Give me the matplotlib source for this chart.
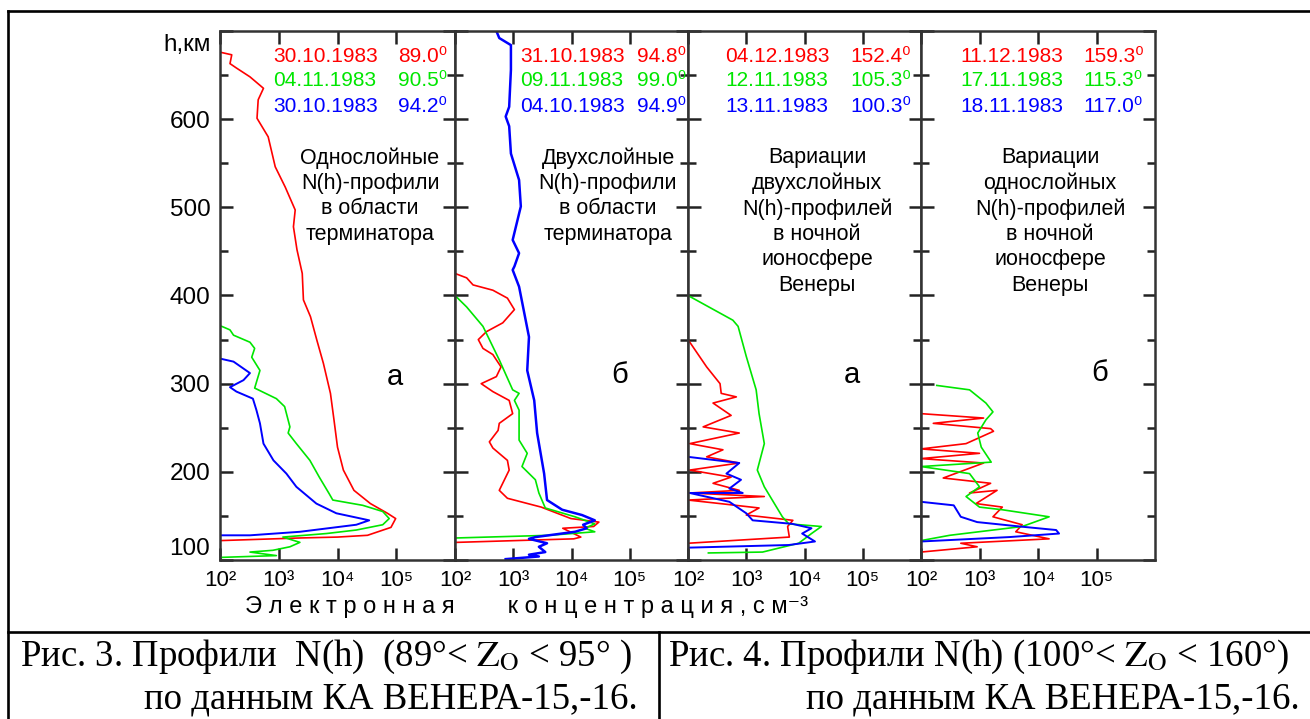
import matplotlib
matplotlib.use('Agg')
import numpy as np
import matplotlib.pyplot as plt
from matplotlib.lines import Line2D
from matplotlib.ticker import NullLocator

plt.rcParams['font.family'] = ['Liberation Sans', 'DejaVu Sans']
plt.rcParams['mathtext.fontset'] = 'stix'

# --- data: log10(N, cm^-3) vs h (km) ---
# panel 1: single-layer profiles near terminator
p1_red_n = [2.0, 2.2, 2.17, 2.28, 2.51, 2.74, 2.65, 2.63, 2.82, 2.94, 3.11, 3.28, 3.25, 3.31, 3.40, 3.42,
            3.54, 3.65, 3.76, 3.88, 3.94, 4.0, 4.10, 4.28, 4.56, 4.85, 4.99, 4.91, 4.51, 4.0, 3.37, 2.0]
p1_red_h = [676, 673, 663, 658, 648, 635, 622, 601, 580, 546, 523, 497, 478, 452, 425, 395,
            376, 349, 323, 289, 259, 228, 202, 179, 164, 153, 147, 137, 128, 126, 125, 122]
p1_green_n = [2.03, 2.17, 2.23, 2.51, 2.59, 2.54, 2.68, 2.59, 2.96, 3.10, 3.19, 3.16, 3.30, 3.53, 3.69,
              3.86, 3.92, 4.43, 4.77, 4.88, 4.77, 4.32, 3.81, 3.07, 3.36, 3.19, 2.90, 2.51, 2.96, 2.03]
p1_green_h = [365, 361, 355, 347, 340, 330, 315, 295, 283, 274, 251, 244, 232, 213, 194,
              175, 168, 162, 155, 147, 140, 134, 130, 126, 120, 115, 111, 109, 105, 103]
p1_blue_n = [2.03, 2.23, 2.51, 2.40, 2.17, 2.28, 2.56, 2.62, 2.68, 2.74, 2.91, 3.13, 3.30, 3.64, 3.98,
             4.54, 4.32, 3.36, 2.51, 2.03]
p1_blue_h = [328, 325, 312, 304, 296, 291, 283, 270, 255, 232, 213, 198, 183, 164, 153,
             145, 140, 132, 128, 128]

# panel 2: two-layer profiles near terminator
p2_red_n = [2.0, 2.20, 2.31, 2.65, 2.90, 3.02, 2.82, 2.54, 2.40, 2.48, 2.65, 2.79, 2.71, 2.45, 2.65, 2.93,
            2.99, 2.76, 2.74, 2.59, 2.65, 2.90, 2.93, 2.76, 2.90, 3.48, 3.99, 4.47, 4.38, 3.85, 4.16, 4.04, 2.03]
p2_red_h = [425, 420, 412, 406, 397, 384, 369, 359, 350, 340, 333, 319, 308, 300, 291, 281,
            266, 255, 247, 234, 227, 213, 202, 179, 170, 160, 147, 143, 138, 136, 126, 124, 120]
p2_green_n = [2.0, 2.20, 2.48, 2.76, 2.99, 3.10, 3.02, 3.10, 3.10, 3.24, 3.15, 3.38, 3.44, 3.55, 4.06,
              4.40, 4.23, 4.40, 3.61, 2.03]
p2_green_h = [400, 387, 365, 327, 293, 289, 281, 270, 236, 221, 206, 191, 176, 159, 149,
              141, 136, 132, 128, 125]
p2_blue_n = [2.71, 2.76, 2.96, 2.96, 2.93, 2.87, 2.93, 2.96, 3.10, 3.13, 2.99, 3.10, 3.02, 2.99, 3.10, 3.27,
             3.24, 3.36, 3.41, 3.53, 3.58, 3.84, 4.18, 4.40, 4.20, 4.26, 4.06, 3.38, 3.27, 3.58, 3.44,
             3.55, 3.27, 3.44, 2.87]
p2_blue_h = [700, 692, 684, 656, 614, 603, 592, 561, 531, 501, 463, 448, 433, 429, 410, 353,
             315, 281, 244, 198, 168, 157, 151, 145, 140, 136, 132, 126, 124, 119, 115,
             109, 106, 104, 101]

# panel 3: night, two-layer variations
p3_red_n = [2.0, 2.32, 2.55, 2.57, 2.83, 2.43, 2.74, 2.26, 2.88, 2.03, 2.60, 2.32, 2.88, 2.03, 2.74, 2.43,
            2.88, 2.03, 3.31, 2.0, 2.55, 3.22, 3.00, 3.80, 3.71, 3.74, 2.0]
p3_red_h = [350, 319, 300, 289, 285, 278, 264, 251, 244, 232, 225, 217, 210, 202, 194, 187,
            179, 176, 172, 168, 164, 159, 151, 145, 138, 126, 119]
p3_green_n = [2.0, 2.77, 2.86, 3.00, 3.17, 3.22, 3.31, 3.19, 3.31, 3.62, 3.73, 4.29, 4.12, 3.90, 3.28, 2.35]
p3_green_h = [400, 372, 365, 331, 293, 266, 232, 202, 183, 149, 141, 138, 130, 119, 109, 108]
p3_blue_n = [2.0, 2.88, 2.66, 2.91, 2.71, 2.94, 2.03, 2.71, 3.00, 3.11, 3.79, 4.12, 3.96, 4.18, 3.73, 2.0]
p3_blue_h = [217, 210, 198, 191, 181, 176, 176, 166, 153, 145, 141, 136, 130, 121, 117, 114]

# panel 4: night, single-layer variations
p4_red_n = [2.0, 3.07, 2.21, 3.19, 3.24, 2.77, 2.0, 3.00, 2.0, 3.07, 2.38, 3.19, 2.83, 3.30, 2.94, 3.39,
            3.23, 3.73, 3.62, 4.19, 2.68, 2.96, 2.0]
p4_red_h = [266, 261, 255, 249, 246, 232, 226, 221, 215, 210, 193, 187, 176, 179, 164, 160,
            149, 140, 132, 124, 119, 115, 109]
p4_green_n = [2.27, 2.83, 3.11, 3.23, 3.11, 2.97, 3.03, 3.20, 2.0, 2.83, 3.00, 2.77, 3.00, 3.39, 4.19,
              3.73, 2.49, 2.0]
p4_green_h = [298, 293, 278, 268, 259, 244, 228, 211, 206, 198, 183, 172, 160, 157, 149,
              138, 128, 122]
p4_blue_n = [2.0, 2.56, 2.68, 2.96, 3.69, 4.31, 4.36, 3.51, 2.0]
p4_blue_h = [166, 162, 149, 143, 138, 134, 130, 126, 121]

p1_dates = ['30.10.1983', '04.11.1983', '30.10.1983']
p1_angles = ['89.0', '90.5', '94.2']
p2_dates = ['31.10.1983', '09.11.1983', '04.10.1983']
p2_angles = ['94.8', '99.0', '94.9']
p3_dates = ['04.12.1983', '12.11.1983', '13.11.1983']
p3_angles = ['152.4', '105.3', '100.3']
p4_dates = ['11.12.1983', '17.11.1983', '18.11.1983']
p4_angles = ['159.3', '115.3', '117.0']

p1_note = ['Однослойные', 'N(h)-профили', 'в области', 'терминатора']
p2_note = ['Двухслойные', 'N(h)-профили', 'в области', 'терминатора']
p3_note = ['Вариации', 'двухслойных', 'N(h)-профилей', 'в ночной', 'ионосфере', 'Венеры']
p4_note = ['Вариации', 'однослойных', 'N(h)-профилей', 'в ночной', 'ионосфере', 'Венеры']
panel_letters = ['а', 'б', 'а', 'б']

x_ticks = [1e2, 1e3, 1e4, 1e5]
x_ticklabels = ['10²', '10³', '10⁴', '10⁵']
y_ticks = [100, 200, 300, 400, 500, 600, 700]
y_ticklabels = ['100', '200', '300', '400', '500', '600', '']

colors = ['#ff0000', '#00e600', '#0000ff']

panels = [
    ([p1_red_n, p1_green_n, p1_blue_n], [p1_red_h, p1_green_h, p1_blue_h], p1_dates, p1_angles, p1_note),
    ([p2_red_n, p2_green_n, p2_blue_n], [p2_red_h, p2_green_h, p2_blue_h], p2_dates, p2_angles, p2_note),
    ([p3_red_n, p3_green_n, p3_blue_n], [p3_red_h, p3_green_h, p3_blue_h], p3_dates, p3_angles, p3_note),
    ([p4_red_n, p4_green_n, p4_blue_n], [p4_red_h, p4_green_h, p4_blue_h], p4_dates, p4_angles, p4_note),
]

# --- layout in pixels ---
W, H = 1310, 719
def fx(x):
    return x / W
def fy(y):
    return 1 - y / H

edges = [220, 455, 688, 921, 1155]
top, bottom = 31, 560
date_x = [273, 520, 725, 960]
angle_x = [398, 637, 850, 1083]
note_x = [370, 608, 817, 1050]
letter_pos = [(395, 377), (620, 375), (852, 375), (1100, 373)]

fig = plt.figure(figsize=(13.1, 7.19), dpi=100)

for i, (ns, hs, dates, angles, note) in enumerate(panels):
    ax = fig.add_axes([fx(edges[i]), fy(bottom), (edges[i + 1] - edges[i]) / W, (bottom - top) / H])
    lws = [1.2, 1.2, 1.8 if i == 1 else 1.4]
    for n, h, c, lw in zip(ns, hs, colors, lws):
        ax.plot(10 ** np.array(n), h, color=c, lw=lw)
    ax.set_xscale('log')
    ax.set_xlim(1e2, 1e6)
    ax.set_ylim(100, 700)
    ax.set_xticks(x_ticks)
    ax.set_xticklabels(x_ticklabels, fontsize=16)
    ax.xaxis.set_minor_locator(NullLocator())
    ax.set_yticks(y_ticks)
    ax.set_yticks(range(150, 700, 100), minor=True)
    if i == 0:
        ax.set_yticklabels(y_ticklabels, fontsize=17.5)
        ax.yaxis.get_major_ticks()[0].label1.set_verticalalignment('bottom')
    else:
        ax.set_yticklabels([])
    ax.tick_params(which='both', direction='in', top=True, right=True, width=1.8, color='#222222')
    ax.tick_params(which='major', length=9, pad=7)
    ax.tick_params(which='minor', length=6)
    for s in ax.spines.values():
        s.set_linewidth(1.8)
        s.set_color('#333333')

    for k in range(3):
        yy = 56 + 25 * k
        fig.text(fx(date_x[i]), fy(yy), dates[k], color=colors[k], fontsize=15, ha='left', va='center')
        fig.text(fx(angle_x[i]), fy(yy), angles[k] + '⁰', color=colors[k], fontsize=15,
                 ha='left', va='center')
    for k, line in enumerate(note):
        fig.text(fx(note_x[i]), fy(158 + 25.5 * k), line, fontsize=15.5, ha='center', va='center')
    lx, ly = letter_pos[i]
    fig.text(fx(lx), fy(ly), panel_letters[i], fontsize=21, ha='center', va='center')

fig.text(fx(211), fy(45), 'h,км', fontsize=17.5, ha='right', va='center')

word1 = ' '.join('Электронная')
word2 = ' '.join('концентрация') + ' , с м⁻³'
fig.text(fx(527), fy(607), word1 + ' ' * 8 + word2, fontsize=17, ha='center', va='center')

# frame around the figure and caption cells
frame = dict(color='black', lw=1.9, transform=fig.transFigure)
fig.add_artist(Line2D([fx(8), fx(8)], [fy(11), fy(719)], **frame))
fig.add_artist(Line2D([fx(8), fx(1310)], [fy(11), fy(11)], **frame))
fig.add_artist(Line2D([fx(8), fx(1310)], [fy(632), fy(632)], **frame))
fig.add_artist(Line2D([fx(659), fx(659)], [fy(632), fy(719)], **frame))

cap = dict(family=['Liberation Serif', 'DejaVu Serif'], fontsize=26.5, va='center')
fig.text(fx(20), fy(657), 'Рис. 3. Профили  N(h)  (89°< $\\mathrm{Z}_\\mathrm{O}$ < 95° )', ha='left', **cap)
fig.text(fx(638), fy(699), 'по данным КА ВЕНЕРА-15,-16.', ha='right', **cap)
fig.text(fx(668), fy(657), 'Рис. 4. Профили N(h) (100°< $\\mathrm{Z}_\\mathrm{O}$ < 160°)', ha='left', **cap)
fig.text(fx(1300), fy(699), 'по данным КА ВЕНЕРА-15,-16.', ha='right', **cap)

fig.savefig('out.png', dpi=100)
